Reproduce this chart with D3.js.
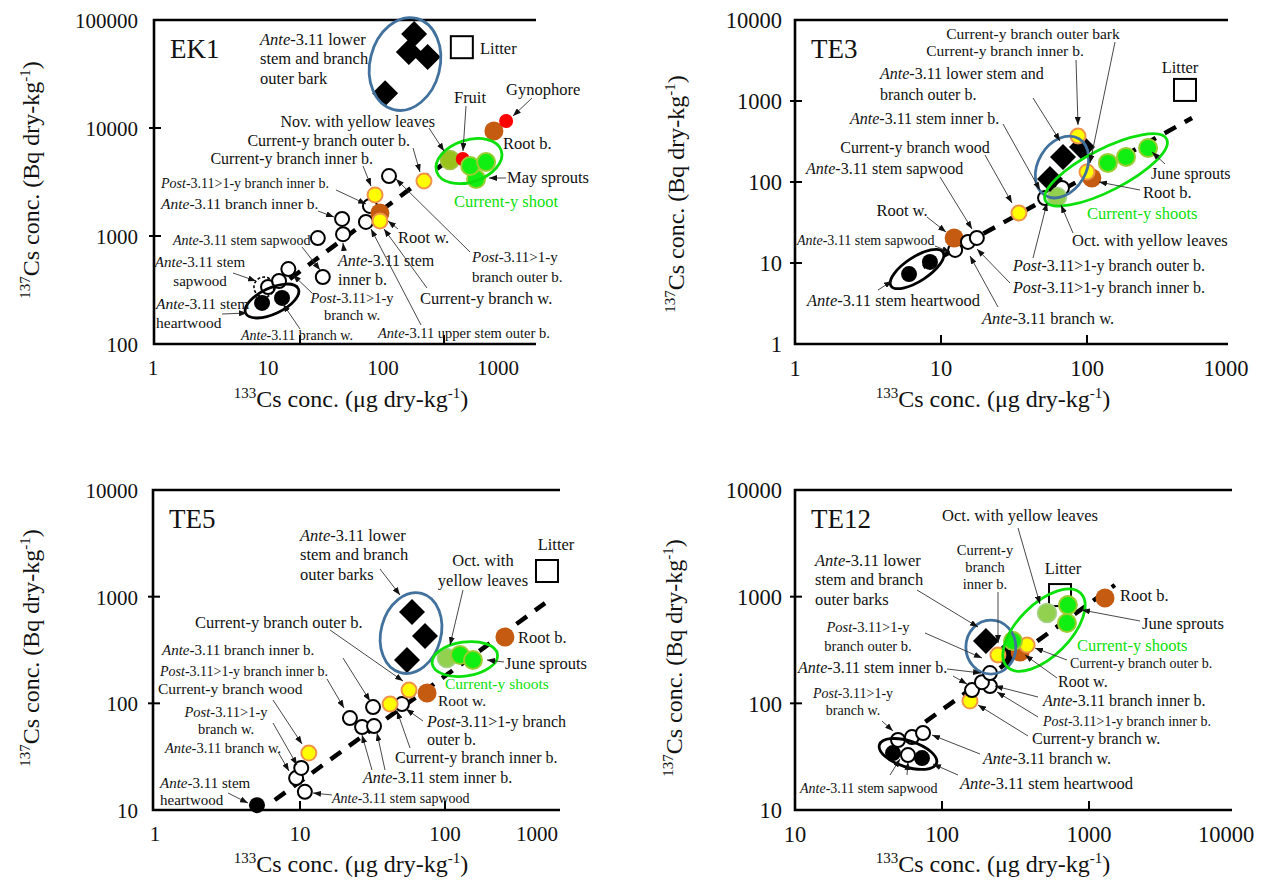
<!DOCTYPE html>
<html>
<head>
<meta charset="utf-8">
<script src="https://cdn.jsdelivr.net/npm/d3@7"></script>
<style>
  body { margin: 0; background: #fff; }
  text { font-family: "Liberation Serif", "Times New Roman", serif; fill: #111; }
</style>
</head>
<body>
<svg id="chart" width="1283" height="885"></svg>
<script>
// ---- Data: [marker type, 133Cs (ug/kg), 137Cs (Bq/kg)] ----
var ek1Points = [
  ['diamond', 62, 74000], ['diamond', 57, 50500], ['diamond', 77, 45500], ['diamond', 39, 21000],
  ['litter', 133, 56000],
  ['open', 6.0, 337], ['open', 7.15, 383], ['open', 8.3, 494], ['open', 14.4, 417],
  ['open', 13.3, 957], ['open', 19.9, 1040], ['open', 19.6, 1440], ['open', 28.7, 1350],
  ['open', 30.6, 1900], ['open', 41.5, 3590],
  ['black', 5.45, 240], ['black', 7.5, 267],
  ['brown', 35.9, 1630], ['yellow', 35.9, 1380], ['yellow', 33.2, 2400], ['yellow', 72.6, 3230],
  ['nov', 110, 5060], ['red', 135, 5160],
  ['green', 167, 3370], ['green', 152, 4450], ['green', 196, 4840],
  ['brown', 222, 9380], ['red', 270, 11600]
];
var ek1Fit = [[8.5, 400], [100, 4700]];

var te3Points = [
  ['litter', 469, 1370],
  ['black', 6.04, 7.3], ['black', 8.4, 10.3],
  ['open', 12.5, 14.5], ['brown', 12.3, 20.4], ['open', 15.3, 18.2], ['open', 17.6, 20.4],
  ['yellow', 34.2, 41.4],
  ['open', 51.6, 63.5], ['open', 67.4, 84.3], ['lgreen', 62.3, 65.3],
  ['diamond', 55.8, 109], ['diamond', 68.5, 204], ['diamond', 92.4, 270],
  ['yellow', 86.8, 370], ['brown', 108, 112], ['yellow', 100, 133],
  ['green', 139, 172], ['green', 185, 204], ['green', 262, 263]
];
var te3Fit = [[5.5, 6.5], [524, 617]];

var te5Points = [
  ['litter', 505, 1740],
  ['black', 5.05, 11.1],
  ['open', 10.8, 14.8], ['open', 9.4, 19.9], ['open', 10.2, 24.8], ['yellow', 11.5, 34.2],
  ['open', 22.1, 72.8], ['open', 26.8, 60.0], ['open', 32.4, 61.2], ['open', 31.9, 92.2],
  ['open', 50.5, 98.4], ['yellow', 41.8, 98.5], ['yellow', 56.5, 133], ['brown', 75.2, 125],
  ['diamond', 54.7, 255], ['diamond', 72.8, 428], ['diamond', 59.2, 718],
  ['lgreen', 103, 266], ['green', 127, 284], ['green', 156, 255],
  ['brown', 259, 418]
];
var te5Fit = [[6.7, 12.4], [490, 870]];

var te12Points = [
  ['litter', 635, 1035],
  ['open', 58.7, 32.7], ['black', 46.4, 34.2], ['black', 73.1, 30.7],
  ['open', 50.2, 45.3], ['open', 62.5, 48.3], ['open', 74.3, 52.7],
  ['yellow', 155, 105], ['open', 160, 133], ['open', 212, 145], ['open', 187, 158], ['open', 212, 192],
  ['diamond', 199, 384], ['diamond', 272, 284], ['yellow', 240, 284], ['brown', 340, 303],
  ['yellow', 379, 352], ['green', 304, 384],
  ['lgreen', 518, 702], ['green', 708, 566], ['green', 719, 834],
  ['brown', 1285, 970]
];
var te12Fit = [[77, 67], [1500, 1285]];

// Tick labels
var xTicksA = [1, 10, 100, 1000];
var xTicksB = [10, 100, 1000, 10000];
var yTicksEK1 = [100, 1000, 10000, 100000];
var yTicksTE3 = [1, 10, 100, 1000, 10000];
var yTicksLow = [10, 100, 1000, 10000];

// ---- Marker styles ----
var styles = {
  open:    { r: 7,   fill: '#fff',    stroke: '#000',    sw: 2 },
  black:   { r: 8,   fill: '#000',    stroke: 'none',    sw: 0 },
  yellow:  { r: 7.5, fill: '#ffff00', stroke: '#f0944a', sw: 2 },
  brown:   { r: 9.5, fill: '#c55a11', stroke: 'none',    sw: 0 },
  red:     { r: 7,   fill: '#ff0000', stroke: 'none',    sw: 0 },
  green:   { r: 9,   fill: '#11ee11', stroke: '#9acd32', sw: 2 },
  lgreen:  { r: 9.5, fill: '#92d050', stroke: '#a9d18e', sw: 1.5 },
  nov:     { r: 9.5, fill: '#99c31c', stroke: '#a6c44a', sw: 1.5 },
  diamond: { s: 13,  fill: '#000' },
  litter:  { s: 22,  fill: '#fff',    stroke: '#000',    sw: 2 }
};

var BLUE = '#41719c', GREEN = '#0be00b';

// ---- Layout of each panel, with its ellipses and annotations ----
var panels = [
  {
    title: 'EK1', pts: ek1Points, fit: ek1Fit,
    xDom: [1, 1000], xRange: [156, 588], labRange: [153, 498], labMax: 536,
    yDom: [100, 100000], top: 20, bottom: 344, left: 154, right: 536,
    xTicks: xTicksA, yTicks: yTicksEK1, tickFs: 21, yLabelX: 138, xLabelY: 368,
    xTitle: [351, 399], yTitle: [31, 180],
    ellipses: [
      { cx: 53.6, cy: 39100, rx: 35, ry: 47, rot: 14, color: BLUE },
      { cx: 149, cy: 4940, rx: 34, ry: 21, rot: -18, color: GREEN },
      { cx: 6.39, cy: 250, rx: 29, ry: 13, rot: -25, color: '#000' },
      { cx: 5.62, cy: 337, rx: 10, ry: 10, rot: 0, color: '#000', dash: '3,2' }
    ],
    notes: [
      { t: 'Ante-3.11 lower\nstem and branch\nouter bark', x: 260, y: 39, a: 'start', lh: 19.5 },
      { t: 'Litter', x: 480, y: 48, a: 'start' },
      { t: 'Gynophore', x: 506, y: 89, a: 'start', ar: [[532, 98, 513, 116]] },
      { t: 'Fruit', x: 470, y: 97, a: 'middle', ar: [[466, 106, 463, 151]] },
      { t: 'Nov. with yellow leaves', x: 435, y: 121, a: 'end', fs: 16, ar: [[429, 128, 444, 151]] },
      { t: 'Root b.', x: 503, y: 143, a: 'start' },
      { t: 'Current-y branch outer b.', x: 410, y: 140, a: 'end', fs: 16, ar: [[413, 148, 420, 172]] },
      { t: 'Current-y branch inner b.', x: 373, y: 158, a: 'end', fs: 16, ar: [[363, 166, 371, 186]] },
      { t: 'Post-3.11>1-y branch inner b.', x: 161, y: 183, a: 'start', fs: 14, ar: [[336, 190, 366, 204]] },
      { t: 'Ante-3.11 branch inner b.', x: 161, y: 204, a: 'start', fs: 15.5, ar: [[318, 211, 334, 217]] },
      { t: 'Ante-3.11 stem sapwood', x: 173, y: 240, a: 'start', fs: 14, ar: [[302, 247, 320, 270]] },
      { t: 'Ante-3.11 stem\nsapwood', x: 200, y: 262, a: 'middle', fs: 15, lh: 19, ar: [[233, 273, 256, 281]] },
      { t: 'Ante-3.11 stem\nheartwood', x: 156, y: 304, a: 'start', fs: 15.5, lh: 19, ar: [[222, 314, 247, 313]] },
      { t: 'Ante-3.11 branch w.', x: 297, y: 335, a: 'middle', fs: 14, ar: [[300, 329, 283, 304]] },
      { t: 'Ante-3.11 stem\ninner b.', x: 338, y: 260, a: 'start', fs: 16, lh: 19, ar: [[344, 251, 343, 243]] },
      { t: 'Post-3.11>1-y\nbranch w.', x: 352, y: 298, a: 'middle', fs: 14.5, lh: 17, ar: [[312, 293, 293, 275]] },
      { t: 'Root w.', x: 398, y: 237, a: 'start', ar: [[398, 229, 388, 221]] },
      { t: 'Current-y branch w.', x: 420, y: 298, a: 'start', ar: [[427, 288, 384, 229]] },
      { t: 'Ante-3.11 upper stem outer b.', x: 378, y: 333, a: 'start', fs: 14.5, ar: [[421, 325, 371, 229]] },
      { t: 'Post-3.11>1-y\nbranch outer b.', x: 472, y: 257, a: 'start', fs: 15, lh: 20, ar: [[470, 252, 396, 179]] },
      { t: 'May sprouts', x: 507, y: 177, a: 'start', ar: [[506, 178, 489, 178]] },
      { t: 'Current-y shoot', x: 454, y: 201, a: 'start', c: GREEN }
    ]
  },
  {
    title: 'TE3', pts: te3Points, fit: te3Fit,
    xDom: [1, 1000], xRange: [795, 1233], labMax: 1226,
    yDom: [1, 10000], top: 20, bottom: 344, left: 795, right: 1228,
    xTicks: xTicksA, yTicks: yTicksTE3, tickFs: 22.5, yLabelX: 782, xLabelY: 368,
    xTitle: [993, 399], yTitle: [676, 194],
    ellipses: [
      { cx: 67.4, cy: 153, rx: 24, ry: 33, rot: 31, color: BLUE },
      { cx: 135, cy: 141, rx: 68, ry: 21, rot: -27, color: GREEN },
      { cx: 6.85, cy: 8.43, rx: 31, ry: 12, rot: -33, color: '#000' }
    ],
    notes: [
      { t: 'Current-y branch outer bark', x: 1033, y: 34, a: 'middle', fs: 15.5, ar: [[1115, 42, 1090, 163]] },
      { t: 'Current-y branch inner b.', x: 1005, y: 51, a: 'middle', fs: 15.5, ar: [[1076, 60, 1078, 125]] },
      { t: 'Ante-3.11 lower stem and\nbranch outer b.', x: 880, y: 73, a: 'start', fs: 16, lh: 21, ar: [[1033, 98, 1060, 141]] },
      { t: 'Ante-3.11 stem inner b.', x: 850, y: 118, a: 'start', fs: 16, ar: [[1003, 124, 1040, 190]] },
      { t: 'Current-y branch wood', x: 915, y: 147, a: 'middle', fs: 16, ar: [[985, 155, 1012, 203]] },
      { t: 'Ante-3.11 stem sapwood', x: 806, y: 168, a: 'start', fs: 16, ar: [[940, 177, 972, 229]] },
      { t: 'Root w.', x: 902, y: 210, a: 'middle', ar: [[927, 217, 946, 232]] },
      { t: 'Ante-3.11 stem sapwood', x: 797, y: 240, a: 'start', fs: 14, ar: [[935, 246, 950, 252]] },
      { t: 'Ante-3.11 stem heartwood', x: 807, y: 300, a: 'start', ar: [[878, 290, 892, 281]] },
      { t: 'Ante-3.11 branch w.', x: 982, y: 318, a: 'start', ar: [[998, 307, 970, 256]] },
      { t: 'Post-3.11>1-y branch inner b.', x: 1013, y: 287, a: 'start', fs: 16, ar: [[1010, 283, 977, 249]] },
      { t: 'Post-3.11>1-y branch outer b.', x: 1013, y: 265, a: 'start', fs: 16, ar: [[1033, 258, 1047, 203]] },
      { t: 'Oct. with yellow leaves', x: 1072, y: 240, a: 'start', ar: [[1073, 233, 1061, 205]] },
      { t: 'Current-y shoots', x: 1087, y: 213, a: 'start', c: GREEN },
      { t: 'Root b.', x: 1143, y: 192, a: 'start', ar: [[1140, 190, 1099, 182]] },
      { t: 'June sprouts', x: 1151, y: 173, a: 'start', fs: 16, ar: [[1165, 164, 1152, 152]] },
      { t: 'Litter', x: 1180, y: 67, a: 'middle' }
    ]
  },
  {
    title: 'TE5', pts: te5Points, fit: te5Fit,
    xDom: [1, 1000], xRange: [155, 590], labMax: 537,
    yDom: [10, 10000], top: 490, bottom: 810, left: 153, right: 560,
    xTicks: xTicksA, yTicks: yTicksLow, tickFs: 21, yLabelX: 138, xLabelY: 834,
    xTitle: [351, 864], yTitle: [31, 648],
    ellipses: [
      { cx: 58.3, cy: 456, rx: 30, ry: 41, rot: 15, color: BLUE },
      { cx: 137, cy: 260, rx: 33, ry: 17, rot: -8, color: GREEN }
    ],
    notes: [
      { t: 'Ante-3.11 lower\nstem and branch\nouter barks', x: 300, y: 535, a: 'start', lh: 19.5, ar: [[380, 569, 400, 595]] },
      { t: 'Oct. with\nyellow leaves', x: 483, y: 560, a: 'middle', lh: 20, ar: [[463, 590, 450, 645]] },
      { t: 'Litter', x: 556, y: 544, a: 'middle' },
      { t: 'Root b.', x: 518, y: 637, a: 'start' },
      { t: 'June sprouts', x: 505, y: 663, a: 'start', ar: [[504, 662, 487, 660]] },
      { t: 'Current-y shoots', x: 445, y: 684, a: 'start', fs: 15.5, c: GREEN },
      { t: 'Root w.', x: 438, y: 701, a: 'start', fs: 15.5 },
      { t: 'Current-y branch outer b.', x: 195, y: 622, a: 'start', ar: [[330, 630, 403, 681]] },
      { t: 'Ante-3.11 branch inner b.', x: 162, y: 650, a: 'start', fs: 15, ar: [[343, 658, 370, 701]] },
      { t: 'Post-3.11>1-y branch inner b.', x: 160, y: 671, a: 'start', fs: 14, ar: [[327, 679, 344, 708]] },
      { t: 'Current-y branch wood', x: 158, y: 689, a: 'start', fs: 15.5, ar: [[273, 700, 302, 744]] },
      { t: 'Post-3.11>1-y\nbranch w.', x: 226, y: 712, a: 'middle', fs: 14.5, lh: 17, ar: [[273, 723, 297, 765]] },
      { t: 'Ante-3.11 branch w.', x: 165, y: 748, a: 'start', fs: 14.5, ar: [[278, 752, 289, 771]] },
      { t: 'Ante-3.11 stem\nheartwood', x: 160, y: 783, a: 'start', fs: 15, lh: 17, ar: [[228, 793, 248, 803]] },
      { t: 'Ante-3.11 stem sapwood', x: 332, y: 798, a: 'start', fs: 14, ar: [[332, 795, 313, 793]] },
      { t: 'Ante-3.11 stem inner b.', x: 363, y: 777, a: 'start', fs: 16, ar: [[372, 770, 362, 735], [385, 770, 377, 733]] },
      { t: 'Current-y branch inner b.', x: 395, y: 757, a: 'start', fs: 16, ar: [[410, 748, 397, 711]] },
      { t: 'Post-3.11>1-y branch\nouter b.', x: 427, y: 721, a: 'start', fs: 16, lh: 18, ar: [[423, 721, 406, 709]] }
    ]
  },
  {
    title: 'TE12', pts: te12Points, fit: te12Fit,
    xDom: [10, 10000], xRange: [795, 1236], labMax: 1226,
    yDom: [10, 10000], top: 490, bottom: 810, left: 795, right: 1232,
    xTicks: xTicksB, yTicks: yTicksLow, tickFs: 22.5, yLabelX: 782, xLabelY: 834,
    xTitle: [993, 864], yTitle: [674, 658],
    ellipses: [
      { cx: 215, cy: 337, rx: 25, ry: 27, rot: 0, color: BLUE },
      { cx: 494, cy: 486, rx: 52, ry: 26, rot: -45, color: GREEN },
      { cx: 58.7, cy: 33.5, rx: 30, ry: 13, rot: 18, color: '#000' }
    ],
    notes: [
      { t: 'Oct. with yellow leaves', x: 1020, y: 515, a: 'middle', ar: [[1018, 528, 1040, 604]] },
      { t: 'Current-y\nbranch\ninner b.', x: 985, y: 550, a: 'middle', fs: 14.5, lh: 17, ar: [[998, 592, 998, 643]] },
      { t: 'Ante-3.11 lower\nstem and branch\nouter barks', x: 815, y: 560, a: 'start', lh: 19.5, ar: [[917, 590, 978, 627]] },
      { t: 'Post-3.11>1-y\nbranch outer b.', x: 868, y: 627, a: 'middle', fs: 14.5, lh: 19, ar: [[925, 633, 982, 658]] },
      { t: 'Litter', x: 1063, y: 568, a: 'middle' },
      { t: 'Root b.', x: 1120, y: 595, a: 'start' },
      { t: 'June sprouts', x: 1142, y: 623, a: 'start', ar: [[1140, 621, 1082, 610]] },
      { t: 'Current-y shoots', x: 1077, y: 645, a: 'start', c: GREEN },
      { t: 'Current-y branch outer b.', x: 1070, y: 663, a: 'start', fs: 14, ar: [[1067, 660, 1035, 648]] },
      { t: 'Root w.', x: 1058, y: 681, a: 'start', fs: 16, ar: [[1057, 678, 1025, 655]] },
      { t: 'Ante-3.11 stem inner b.', x: 798, y: 667, a: 'start', fs: 16, ar: [[947, 669, 981, 673], [953, 676, 967, 684]] },
      { t: 'Post-3.11>1-y\nbranch w.', x: 853, y: 693, a: 'middle', fs: 14, lh: 17, ar: [[882, 721, 893, 731]] },
      { t: 'Ante-3.11 branch inner b.', x: 1043, y: 700, a: 'start', fs: 16, ar: [[1038, 697, 995, 686]] },
      { t: 'Post-3.11>1-y branch inner b.', x: 1043, y: 721, a: 'start', fs: 14, ar: [[1038, 717, 997, 692]] },
      { t: 'Current-y branch w.', x: 1032, y: 738, a: 'start', fs: 16, ar: [[1028, 736, 978, 705]] },
      { t: 'Ante-3.11 branch w.', x: 983, y: 758, a: 'start', fs: 16, ar: [[980, 754, 932, 735]] },
      { t: 'Ante-3.11 stem heartwood', x: 960, y: 783, a: 'start', ar: [[958, 775, 933, 764]] },
      { t: 'Ante-3.11 stem sapwood', x: 800, y: 788, a: 'start', fs: 14, ar: [[890, 775, 900, 759], [907, 775, 908, 762]] }
    ]
  }
];

var svg = d3.select('#chart');

// Arrowhead used by all annotation leaders.
svg.append('defs').append('marker')
  .attr('id', 'arrow')
  .attr('viewBox', '0 0 8 6')
  .attr('refX', 8).attr('refY', 3)
  .attr('markerUnits', 'userSpaceOnUse')
  .attr('markerWidth', 8).attr('markerHeight', 6)
  .attr('orient', 'auto')
  .append('path').attr('d', 'M0,0L8,3L0,6Z').attr('fill', '#111');

// Writes a line of text, putting a leading "Ante"/"Post" in italics.
function addLine(sel, str) {
  var m = str.match(/^(Ante|Post)(.*)$/);
  if (m) {
    sel.append('tspan').attr('font-style', 'italic').text(m[1]);
    sel.append('tspan').text(m[2]);
  } else {
    sel.text(str);
  }
}

// Axis title with superscripts; (x, y) is the centre of the text.
function axisTitle(g, x, y, rotate, parts) {
  var fs = 24;
  var t = g.append('text')
    .attr('transform', 'translate(' + x + ',' + y + ')' + (rotate ? ' rotate(-90)' : ''))
    .attr('text-anchor', 'middle')
    .attr('y', fs * 0.35)
    .attr('font-size', fs);
  t.append('tspan').attr('font-size', 15).attr('dy', -9).text(parts[0]);
  t.append('tspan').attr('dy', 9).text(parts[1]);
  t.append('tspan').attr('font-size', 15).attr('dy', -9).text('-1');
  t.append('tspan').attr('dy', 9).text(')');
}

function drawPanel(p) {
  var x = d3.scaleLog().domain(p.xDom).range(p.xRange);
  var y = d3.scaleLog().domain(p.yDom).range([p.bottom, p.top]);
  var lab = d3.scaleLog().domain(p.xDom).range(p.labRange || p.xRange);
  var g = svg.append('g');

  // Frame (top, left and bottom sides)
  g.append('path')
    .attr('d', 'M' + p.right + ',' + p.top + 'H' + p.left + 'V' + p.bottom + 'H' + p.right)
    .attr('fill', 'none').attr('stroke', '#000').attr('stroke-width', 2.6);

  // Inner tick marks at the decades
  g.selectAll('line.xt').data(p.xTicks.slice(1, -1)).join('line')
    .attr('x1', function (d) { return x(d); }).attr('x2', function (d) { return x(d); })
    .attr('y1', p.bottom).attr('y2', p.bottom - 9)
    .attr('stroke', '#000').attr('stroke-width', 2);
  g.selectAll('line.yt').data(p.yTicks.slice(1, -1)).join('line')
    .attr('x1', p.left - 5).attr('x2', p.left + 7)
    .attr('y1', function (d) { return y(d); }).attr('y2', function (d) { return y(d); })
    .attr('stroke', '#000').attr('stroke-width', 2);

  // Tick labels
  var xa = g.append('g').attr('transform', 'translate(0,' + p.xLabelY + ')')
    .call(d3.axisBottom(lab).tickValues(p.xTicks).tickFormat(d3.format('d')).tickSize(0));
  xa.select('.domain').remove();
  xa.selectAll('.tick').attr('transform', function (d) {
    return 'translate(' + Math.min(lab(d), p.labMax) + ',0)';
  });
  xa.selectAll('text').attr('y', 0).attr('dy', '0.35em')
    .attr('font-size', p.tickFs).attr('font-family', '"Liberation Serif", serif').attr('fill', '#111');

  var ya = g.append('g').attr('transform', 'translate(' + p.yLabelX + ',0)')
    .call(d3.axisLeft(y).tickValues(p.yTicks).tickFormat(d3.format('d')).tickSize(0).tickPadding(0));
  ya.select('.domain').remove();
  ya.selectAll('text').attr('dy', '0.35em')
    .attr('font-size', p.tickFs).attr('font-family', '"Liberation Serif", serif').attr('fill', '#111');

  // Axis titles
  axisTitle(g, p.xTitle[0], p.xTitle[1], false, ['133', 'Cs conc. (\u03bcg dry-kg']);
  axisTitle(g, p.yTitle[0], p.yTitle[1], true, ['137', 'Cs conc. (Bq dry-kg']);

  // Panel name
  g.append('text').attr('x', p.left + 16).attr('y', p.top + 29).attr('dy', '0.35em')
    .attr('font-size', 27).text(p.title);

  // Proportional fit line
  g.append('path')
    .attr('d', d3.line().x(function (d) { return x(d[0]); }).y(function (d) { return y(d[1]); })(p.fit))
    .attr('fill', 'none').attr('stroke', '#000').attr('stroke-width', 4.5)
    .attr('stroke-dasharray', '13,10');

  // Markers
  g.selectAll('.pt').data(p.pts).join(function (enter) {
    return enter.append(function (d) {
      var tag = (d[0] === 'diamond' || d[0] === 'litter') ? 'rect' : 'circle';
      return document.createElementNS('http://www.w3.org/2000/svg', tag);
    });
  })
    .attr('class', 'pt')
    .each(function (d) {
      var s = styles[d[0]], el = d3.select(this), cx = x(d[1]), cy = y(d[2]);
      if (d[0] === 'diamond') {
        var h = s.s / Math.SQRT2;
        el.attr('x', -h).attr('y', -h).attr('width', 2 * h).attr('height', 2 * h)
          .attr('transform', 'translate(' + cx + ',' + cy + ') rotate(45)')
          .attr('fill', s.fill);
      } else if (d[0] === 'litter') {
        el.attr('x', cx - s.s / 2).attr('y', cy - s.s / 2).attr('width', s.s).attr('height', s.s)
          .attr('fill', s.fill).attr('stroke', s.stroke).attr('stroke-width', s.sw);
      } else {
        el.attr('cx', cx).attr('cy', cy).attr('r', s.r)
          .attr('fill', s.fill).attr('stroke', s.stroke).attr('stroke-width', s.sw);
      }
    });

  // Grouping ellipses
  g.selectAll('ellipse').data(p.ellipses).join('ellipse')
    .attr('transform', function (e) {
      return 'translate(' + x(e.cx) + ',' + y(e.cy) + ') rotate(' + e.rot + ')';
    })
    .attr('rx', function (e) { return e.rx; }).attr('ry', function (e) { return e.ry; })
    .attr('fill', 'none')
    .attr('stroke', function (e) { return e.color; })
    .attr('stroke-width', function (e) { return e.dash ? 1.6 : 2.8; })
    .attr('stroke-dasharray', function (e) { return e.dash || null; });

  // Annotations: leader lines then labels
  p.notes.forEach(function (n) {
    (n.ar || []).forEach(function (a) {
      g.append('line')
        .attr('x1', a[0]).attr('y1', a[1]).attr('x2', a[2]).attr('y2', a[3])
        .attr('stroke', '#333').attr('stroke-width', 0.9)
        .attr('marker-end', 'url(#arrow)');
    });
    var lines = n.t.split('\n'), fs = n.fs || 16.5, lh = n.lh || fs * 1.2;
    lines.forEach(function (ln, i) {
      var t = g.append('text')
        .attr('x', n.x).attr('y', n.y + i * lh).attr('dy', '0.35em')
        .attr('text-anchor', n.a).attr('font-size', fs);
      if (n.c) t.style('fill', n.c);
      addLine(t, ln);
    });
  });
}

panels.forEach(drawPanel);
</script>
</body>
</html>
